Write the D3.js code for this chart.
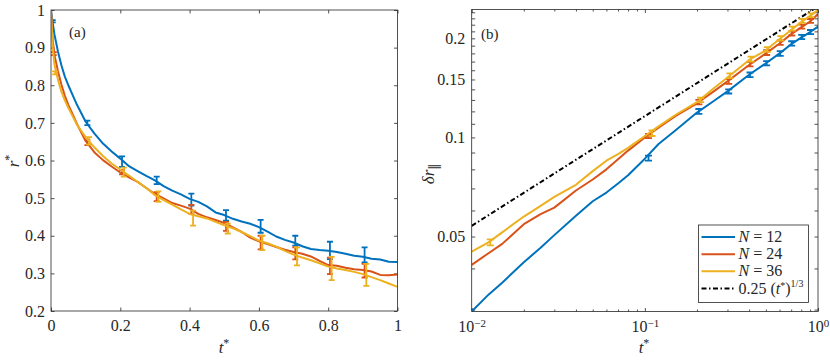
<!DOCTYPE html>
<html>
<head>
<meta charset="utf-8">
<script src="https://cdn.jsdelivr.net/npm/d3@7"></script>
<style>
  body { margin: 0; background: #fff; }
</style>
</head>
<body>
<svg id="fig" width="830" height="360"></svg>
<script>
// ---------- data: panel (a) r* vs t* ----------
const tA = [0, 0.005, 0.01, 0.02, 0.03, 0.04, 0.05, 0.06, 0.075, 0.1, 0.125, 0.15, 0.175, 0.2, 0.225, 0.25,
  0.275, 0.3, 0.325, 0.35, 0.375, 0.4, 0.425, 0.45, 0.475, 0.5, 0.525, 0.55, 0.575, 0.6, 0.625, 0.65,
  0.675, 0.7, 0.725, 0.75, 0.775, 0.8, 0.825, 0.85, 0.875, 0.9, 0.925, 0.95, 0.975, 1.0];
const rN12 = [1.0, 0.965, 0.935, 0.89, 0.853, 0.823, 0.80, 0.779, 0.748, 0.703, 0.672, 0.645, 0.624, 0.605, 0.585, 0.572,
  0.559, 0.547, 0.532, 0.52, 0.51, 0.498, 0.49, 0.478, 0.462, 0.455, 0.445, 0.438, 0.432, 0.423, 0.411, 0.398,
  0.389, 0.382, 0.372, 0.365, 0.362, 0.36, 0.357, 0.352, 0.347, 0.344, 0.339, 0.337, 0.331, 0.330];
const rN24 = [1.0, 0.92, 0.88, 0.838, 0.802, 0.772, 0.748, 0.728, 0.697, 0.652, 0.622, 0.601, 0.584, 0.568, 0.555, 0.543,
  0.527, 0.511, 0.499, 0.487, 0.48, 0.472, 0.458, 0.449, 0.442, 0.434, 0.422, 0.41, 0.395, 0.385, 0.378, 0.37,
  0.363, 0.357, 0.352, 0.345, 0.333, 0.322, 0.32, 0.315, 0.311, 0.309, 0.305, 0.296, 0.295, 0.297];
const rN36 = [1.0, 0.9, 0.855, 0.815, 0.783, 0.76, 0.74, 0.722, 0.695, 0.662, 0.635, 0.612, 0.592, 0.576, 0.56, 0.543,
  0.527, 0.508, 0.495, 0.483, 0.47, 0.458, 0.452, 0.446, 0.437, 0.428, 0.42, 0.41, 0.399, 0.387, 0.38, 0.371,
  0.36, 0.35, 0.342, 0.335, 0.327, 0.318, 0.313, 0.309, 0.304, 0.298, 0.29, 0.282, 0.273, 0.264];

// error bars (a): t, mean, half-width
const ebA12 = [[0.005,0.97,0.003],[0.105,0.70,0.006],[0.205,0.597,0.014],[0.305,0.547,0.01],[0.405,0.496,0.016],
  [0.505,0.454,0.014],[0.605,0.425,0.017],[0.705,0.387,0.013],[0.805,0.361,0.023],[0.905,0.349,0.02]];
const ebA24 = [[0.008,0.884,0.004],[0.105,0.648,0.007],[0.205,0.569,0.006],[0.305,0.504,0.012],[0.405,0.47,0.012],
  [0.505,0.425,0.012],[0.605,0.382,0.018],[0.705,0.353,0.016],[0.805,0.32,0.022],[0.905,0.307,0.018]];
const ebA36 = [[0.012,0.833,0.004],[0.11,0.652,0.01],[0.21,0.569,0.012],[0.31,0.504,0.014],[0.41,0.447,0.02],
  [0.51,0.419,0.013],[0.61,0.381,0.019],[0.71,0.345,0.024],[0.81,0.313,0.031],[0.91,0.296,0.029]];

// ---------- data: panel (b) delta r_par vs t* (log-log) ----------
const tB = [0.01, 0.0125, 0.015, 0.02, 0.025, 0.03, 0.04, 0.05, 0.06, 0.07, 0.08, 0.1, 0.12, 0.15, 0.2, 0.25,
  0.3, 0.4, 0.5, 0.6, 0.7, 0.8, 0.9, 1.0];
const dN12 = [0.0296, 0.0333, 0.0362, 0.0418, 0.0462, 0.0505, 0.0578, 0.064, 0.068, 0.0725, 0.0768, 0.0862, 0.0955,
  0.105, 0.119, 0.129, 0.138, 0.155, 0.168, 0.18, 0.192, 0.201, 0.209, 0.217];
const dN24 = [0.041, 0.0445, 0.0475, 0.0545, 0.0585, 0.0612, 0.069, 0.0745, 0.08, 0.0858, 0.0912, 0.1, 0.107,
  0.116, 0.127, 0.138, 0.148, 0.166, 0.18, 0.193, 0.206, 0.216, 0.225, 0.237];
const dN36 = [0.045, 0.048, 0.0515, 0.0575, 0.062, 0.066, 0.0718, 0.079, 0.085, 0.089, 0.093, 0.101, 0.108,
  0.117, 0.128, 0.141, 0.152, 0.172, 0.184, 0.199, 0.212, 0.224, 0.234, 0.244];

const ebB12 = [[0.105,0.0865,0.0015],[0.205,0.120,0.002],[0.305,0.138,0.002],[0.405,0.155,0.0025],[0.505,0.168,0.0025],
  [0.605,0.180,0.003],[0.705,0.193,0.003],[0.805,0.202,0.003],[0.905,0.209,0.003]];
const ebB24 = [[0.105,0.101,0.0015],[0.205,0.128,0.002],[0.305,0.148,0.0025],[0.405,0.167,0.0025],[0.505,0.181,0.003],
  [0.605,0.194,0.003],[0.705,0.207,0.003],[0.805,0.217,0.003],[0.905,0.226,0.003]];
const ebB36 = [[0.0128,0.048,0.001],[0.11,0.103,0.002],[0.21,0.130,0.002],[0.31,0.154,0.0025],[0.41,0.173,0.003],
  [0.51,0.185,0.003],[0.61,0.200,0.003],[0.71,0.214,0.003],[0.81,0.226,0.003],[0.91,0.235,0.003]];

// reference power law 0.25 (t*)^(1/3), straight in log-log: endpoints
const refT = [0.01, 1];
const refV = [0.0539, 0.25];

// ticks
const xTicksA = [0, 0.2, 0.4, 0.6, 0.8, 1];
const yTicksA = [0.2, 0.3, 0.4, 0.5, 0.6, 0.7, 0.8, 0.9, 1];
const xTicksB = [0.01, 0.02, 0.03, 0.04, 0.05, 0.06, 0.07, 0.08, 0.09, 0.1, 0.2, 0.3, 0.4, 0.5, 0.6, 0.7, 0.8, 0.9, 1];
const xMajorB = [0.01, 0.1, 1];
const xExpB = ['\u22122', '\u22121', '0'];
const yTicksB = [0.03, 0.04, 0.05, 0.06, 0.07, 0.08, 0.09, 0.1, 0.11, 0.12, 0.13, 0.14, 0.15, 0.16, 0.17, 0.18,
  0.19, 0.2, 0.21, 0.22, 0.23, 0.24];
const yLabelsB = [0.05, 0.1, 0.15, 0.2];

const legendLabels = ['12', '24', '36'];
const colors = ['#0072BD', '#D95319', '#EDB120'];
const axisColor = '#262626';
const serif = "'Liberation Serif', 'DejaVu Serif', serif";

const svg = d3.select('#fig');

// ---------- helpers ----------
function styleAxis(g) {
  g.attr('font-family', null).attr('font-size', null);
  g.select('.domain').remove();
  g.selectAll('.tick line').attr('stroke', axisColor).attr('stroke-width', 0.8);
  g.selectAll('.tick text').attr('fill', axisColor)
    .style('font-family', serif).style('font-size', '16px');
}

function drawFrame(g, x0, x1, y0, y1) {
  g.append('rect')
    .attr('x', x0).attr('y', y0)
    .attr('width', x1 - x0).attr('height', y1 - y0)
    .attr('fill', 'none').attr('stroke', axisColor).attr('stroke-width', 0.8);
}

function drawErrorBars(g, data, x, y, color, cap) {
  const eb = g.append('g').attr('stroke', color).attr('stroke-width', 1.8).attr('fill', 'none');
  eb.selectAll('path')
    .data(data)
    .join('path')
    .attr('d', d => {
      const px = x(d[0]), yt = y(d[1] + d[2]), yb = y(d[1] - d[2]);
      return `M${px - cap},${yt}H${px + cap}M${px},${yt}V${yb}M${px - cap},${yb}H${px + cap}`;
    });
}

function mathText(g, x, y, size, anchor) {
  return g.append('text').attr('x', x).attr('y', y).attr('text-anchor', anchor || 'start')
    .style('font-family', serif).style('font-size', size + 'px').attr('fill', axisColor);
}

// ---------- panel (a) ----------
const A = { x0: 51, x1: 397.5, y0: 10, y1: 311 };
const xA = d3.scaleLinear().domain([0, 1]).range([A.x0, A.x1]);
const yA = d3.scaleLinear().domain([0.2, 1]).range([A.y1, A.y0]);
const gA = svg.append('g');

svg.append('defs').append('clipPath').attr('id', 'clipA')
  .append('rect').attr('x', A.x0).attr('y', A.y0 - 2).attr('width', A.x1 - A.x0).attr('height', A.y1 - A.y0 + 2);

gA.append('g').attr('transform', `translate(0,${A.y1})`)
  .call(d3.axisBottom(xA).tickValues(xTicksA).tickSize(-3.5).tickPadding(9).tickFormat(d => String(d)))
  .call(styleAxis);
gA.append('g').attr('transform', `translate(0,${A.y0})`)
  .call(d3.axisTop(xA).tickValues(xTicksA).tickSize(-3.5).tickFormat(''))
  .call(styleAxis);
gA.append('g').attr('transform', `translate(${A.x0},0)`)
  .call(d3.axisLeft(yA).tickValues(yTicksA).tickSize(-3.5).tickPadding(6).tickFormat(d => String(d)))
  .call(styleAxis);
gA.append('g').attr('transform', `translate(${A.x1},0)`)
  .call(d3.axisRight(yA).tickValues(yTicksA).tickSize(-3.5).tickFormat(''))
  .call(styleAxis);

const seriesA = [rN12, rN24, rN36];
const ebA = [ebA12, ebA24, ebA36];
const plotA = gA.append('g').attr('clip-path', 'url(#clipA)');
const lineA = d3.line().x((d, i) => xA(tA[i])).y(d => yA(d));
seriesA.forEach((s, k) => {
  plotA.append('path').datum(s)
    .attr('d', lineA)
    .attr('fill', 'none').attr('stroke', colors[k]).attr('stroke-width', 2)
    .attr('stroke-linejoin', 'round');
  drawErrorBars(plotA, ebA[k], xA, yA, colors[k], 3);
});
drawFrame(gA, A.x0, A.x1, A.y0, A.y1);

mathText(gA, 69, 37, 15).text('(a)');

// axis labels (a)
const xlabA = mathText(gA, 224, 353, 17, 'middle');
xlabA.append('tspan').style('font-style', 'italic').text('t');
xlabA.append('tspan').attr('dy', -6).style('font-size', '12px').text('*');

const ylabA = gA.append('text').attr('transform', 'translate(19,161) rotate(-90)')
  .attr('text-anchor', 'middle').attr('fill', axisColor)
  .style('font-family', serif).style('font-size', '17px');
ylabA.append('tspan').style('font-style', 'italic').text('r');
ylabA.append('tspan').attr('dy', -6).style('font-size', '12px').text('*');

// ---------- panel (b) ----------
const B = { x0: 471.7, x1: 818, y0: 9.5, y1: 311.5 };
const xB = d3.scaleLog().domain([0.01, 1]).range([B.x0, B.x1]);
const yB = d3.scaleLog().domain([0.0296, 0.2447]).range([B.y1, B.y0]);
const gB = svg.append('g');

svg.select('defs').append('clipPath').attr('id', 'clipB')
  .append('rect').attr('x', B.x0).attr('y', B.y0).attr('width', B.x1 - B.x0).attr('height', B.y1 - B.y0);

const axBottomB = gB.append('g').attr('transform', `translate(0,${B.y1})`)
  .call(d3.axisBottom(xB).tickValues(xTicksB).tickSize(-3.5).tickPadding(9)
    .tickFormat(d => (xMajorB.includes(d) ? '10' : '')))
  .call(styleAxis);
axBottomB.selectAll('.tick').each(function (d) {
  const tk = d3.select(this);
  if (!xMajorB.includes(d)) { tk.select('line').attr('y2', -2); return; }
  tk.select('text').append('tspan').attr('dy', '-0.45em').style('font-size', '11px')
    .text(xExpB[xMajorB.indexOf(d)]);
});
const axTopB = gB.append('g').attr('transform', `translate(0,${B.y0})`)
  .call(d3.axisTop(xB).tickValues(xTicksB).tickSize(-3.5).tickFormat(''))
  .call(styleAxis);
axTopB.selectAll('.tick').each(function (d) {
  if (!xMajorB.includes(d)) d3.select(this).select('line').attr('y2', 2);
});
gB.append('g').attr('transform', `translate(${B.x0},0)`)
  .call(d3.axisLeft(yB).tickValues(yTicksB).tickSize(-3.5).tickPadding(6.5)
    .tickFormat(d => (yLabelsB.includes(d) ? String(d) : '')))
  .call(styleAxis);
gB.append('g').attr('transform', `translate(${B.x1},0)`)
  .call(d3.axisRight(yB).tickValues(yTicksB).tickSize(-3.5).tickFormat(''))
  .call(styleAxis);

const plotB = gB.append('g').attr('clip-path', 'url(#clipB)');

// reference line
plotB.append('path').datum(refV)
  .attr('d', d3.line().x((d, i) => xB(refT[i])).y(d => yB(d)))
  .attr('fill', 'none').attr('stroke', '#000').attr('stroke-width', 2)
  .attr('stroke-dasharray', '5,2.5,1.5,2.5');

const seriesB = [dN12, dN24, dN36];
const ebB = [ebB12, ebB24, ebB36];
const lineB = d3.line().x((d, i) => xB(tB[i])).y(d => yB(d));
seriesB.forEach((s, k) => {
  plotB.append('path').datum(s)
    .attr('d', lineB)
    .attr('fill', 'none').attr('stroke', colors[k]).attr('stroke-width', 2)
    .attr('stroke-linejoin', 'round');
  drawErrorBars(plotB, ebB[k], xB, yB, colors[k], 3.5);
});
drawFrame(gB, B.x0, B.x1, B.y0, B.y1);

mathText(gB, 481, 39, 15).text('(b)');

const xlabB = mathText(gB, 644, 353, 17, 'middle');
xlabB.append('tspan').style('font-style', 'italic').text('t');
xlabB.append('tspan').attr('dy', -6).style('font-size', '12px').text('*');

const ylabB = gB.append('text').attr('transform', 'translate(434,174) rotate(-90)')
  .attr('text-anchor', 'middle').attr('fill', axisColor)
  .style('font-family', serif).style('font-size', '17px');
ylabB.append('tspan').style('font-style', 'italic').text('\u03b4r');
ylabB.append('tspan').attr('dy', 4).style('font-size', '12px').style('font-family', "'DejaVu Serif'").text('\u2016');

// ---------- legend ----------
const leg = gB.append('g');
leg.append('rect').attr('x', 698.5).attr('y', 225).attr('width', 110).attr('height', 77.5)
  .attr('fill', '#fff').attr('stroke', axisColor).attr('stroke-width', 0.8);
const legRows = [0, 1, 2, 3];
const legY = d3.scalePoint().domain(legRows).range([237, 288.5]);
leg.selectAll('line.lg')
  .data(legRows)
  .join('line')
  .attr('class', 'lg')
  .attr('x1', 701.5).attr('x2', 735)
  .attr('y1', d => legY(d)).attr('y2', d => legY(d))
  .attr('stroke', d => (d < 3 ? colors[d] : '#000'))
  .attr('stroke-width', 2)
  .attr('stroke-dasharray', d => (d < 3 ? null : '5,2.5,1.5,2.5'));
legRows.slice(0, 3).forEach(k => {
  const t = mathText(leg, 738.5, legY(k) + 5, 16);
  t.append('tspan').style('font-style', 'italic').text('N');
  t.append('tspan').text(' = ' + legendLabels[k]);
});
const refLab = mathText(leg, 738.5, legY(3) + 5, 16);
refLab.append('tspan').text('0.25 (');
refLab.append('tspan').style('font-style', 'italic').text('t');
refLab.append('tspan').attr('dy', -5).style('font-size', '10px').text('*');
refLab.append('tspan').attr('dy', 5).text(')');
refLab.append('tspan').attr('dy', -7).style('font-size', '10px').text('1/3');
</script>
</body>
</html>
